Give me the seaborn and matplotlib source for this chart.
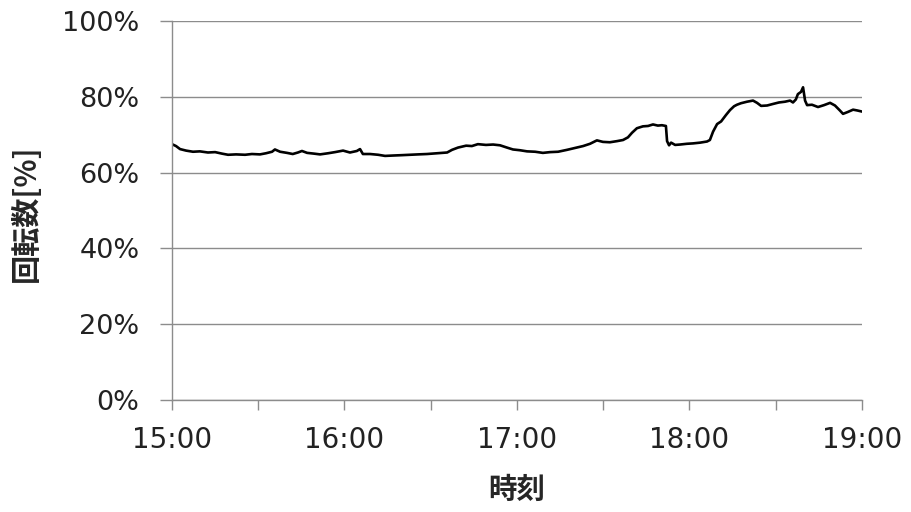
import matplotlib
matplotlib.use("Agg")
import matplotlib.pyplot as plt
import seaborn as sns
import pandas as pd
from matplotlib.ticker import FuncFormatter, MultipleLocator

# Rotation speed log, minutes after 15:00 and percentage of rated speed
minutes = [0, 1.4, 2.8, 4.9, 7.3, 9.7, 12.5, 15, 17.4, 19.5, 22.3, 25.4, 27.8, 30.6,
           32.7, 34.8, 35.8, 37.6, 40, 42, 43.8, 45.2, 47, 49.4, 51.5, 54.3, 56.7,
           59.5, 61.9, 64.3, 65.4, 66.4, 68.9, 71.7, 74.1, 76.9, 80, 82.8, 85.6,
           88.7, 92.2, 95.7, 97.4, 99.5, 102.3, 104.3, 106.4, 109.2, 111.7, 114.1,
           116.5, 118.6, 121, 123.5, 126.3, 129, 131.5, 134.3, 137.4, 140.2, 143,
           145.4, 147.8, 149.9, 152.3, 154.8, 156.9, 158.6, 160, 161.7, 163.8,
           165.6, 167.3, 169, 170.4, 171.8, 172.2, 172.9, 173.6, 175, 176.7, 179.1,
           181.2, 183.7, 186.1, 187.1, 188.2, 189.6, 191, 192.7, 194.1, 195.5,
           196.5, 197.9, 200, 202.1, 203.5, 204.9, 207, 209, 211.1, 213.2, 215,
           216, 217, 217.7, 218.8, 219.5, 220.2, 220.9, 222.6, 224.7, 226.8, 228.9,
           230.6, 232.3, 233.4, 235.1, 236.9, 238.3, 240]
speed = [67.5, 67.0, 66.2, 65.8, 65.5, 65.6, 65.3, 65.4, 65.0, 64.7, 64.8, 64.7, 64.9,
         64.8, 65.1, 65.5, 66.1, 65.5, 65.2, 64.9, 65.3, 65.7, 65.2, 65.0, 64.8, 65.1,
         65.4, 65.8, 65.3, 65.7, 66.2, 64.9, 64.9, 64.7, 64.4, 64.5, 64.6, 64.7, 64.8,
         64.9, 65.1, 65.3, 66.0, 66.6, 67.1, 67.0, 67.5, 67.3, 67.4, 67.2, 66.6, 66.1,
         65.9, 65.6, 65.5, 65.2, 65.4, 65.5, 66.0, 66.5, 67.0, 67.6, 68.5, 68.1, 68.0,
         68.3, 68.6, 69.3, 70.5, 71.7, 72.2, 72.3, 72.7, 72.4, 72.5, 72.3, 68.3, 67.2,
         67.9, 67.3, 67.4, 67.6, 67.7, 67.9, 68.2, 68.6, 70.8, 72.8, 73.5, 75.2, 76.5,
         77.5, 77.9, 78.3, 78.7, 79.0, 78.4, 77.6, 77.7, 78.1, 78.5, 78.7, 79.0, 78.5,
         79.3, 80.7, 81.3, 82.5, 79.0, 77.8, 77.9, 77.3, 77.8, 78.4, 77.7, 76.4, 75.5,
         76.0, 76.6, 76.4, 76.1]

hour_labels = ["15:00", "16:00", "17:00", "18:00", "19:00"]
y_ticks = [0, 20, 40, 60, 80, 100]
x_label = "時刻"
y_label = "回転数[%]"

df = pd.DataFrame({"minute": minutes, "speed": speed})

sns.set_theme(style="white")
plt.rcParams["font.family"] = ["DejaVu Sans", "Noto Sans CJK JP"]

fig = plt.figure(figsize=(9.11, 5.12), dpi=100)
ax = fig.add_axes([0.1888, 0.2188, 0.7574, 0.7402])

sns.lineplot(data=df, x="minute", y="speed", ax=ax, color="black", linewidth=1.9)

ax.set_xlim(0, 240)
ax.set_ylim(0, 100)

ax.set_yticks(y_ticks)
ax.yaxis.set_major_formatter(FuncFormatter(lambda v, p: f"{int(round(v))}%"))
ax.xaxis.set_major_locator(MultipleLocator(30))


def fmt_time(v, pos):
    i = int(round(v))
    if i % 60 == 0 and 0 <= i // 60 < len(hour_labels):
        return hour_labels[i // 60]
    return ""


ax.xaxis.set_major_formatter(FuncFormatter(fmt_time))

ax.grid(axis="y", color="#8c8c8c", linewidth=1.0)
ax.grid(axis="x", visible=False)
for side in ("top", "right"):
    ax.spines[side].set_visible(False)
for side in ("left", "bottom"):
    ax.spines[side].set_color("#8c8c8c")
    ax.spines[side].set_linewidth(1.0)

ax.tick_params(axis="y", direction="out", length=8.5, width=1.0, color="#8c8c8c",
               pad=15, labelsize=19.5, labelcolor="#222222", left=True)
ax.tick_params(axis="x", direction="out", length=7, width=1.0, color="#8c8c8c",
               pad=12, labelsize=20, labelcolor="#222222", bottom=True)

ax.set_xlabel(x_label, fontsize=20.5, fontweight="bold",
              family=["Noto Sans CJK JP", "DejaVu Sans"])
ax.set_ylabel(y_label, fontsize=21, fontweight="bold",
              family=["Noto Sans CJK JP", "DejaVu Sans"])
ax.xaxis.set_label_coords(0.5, -0.20)
ax.yaxis.set_label_coords(-0.19, 0.493)

fig.savefig("out.png", dpi=100, facecolor="white")
